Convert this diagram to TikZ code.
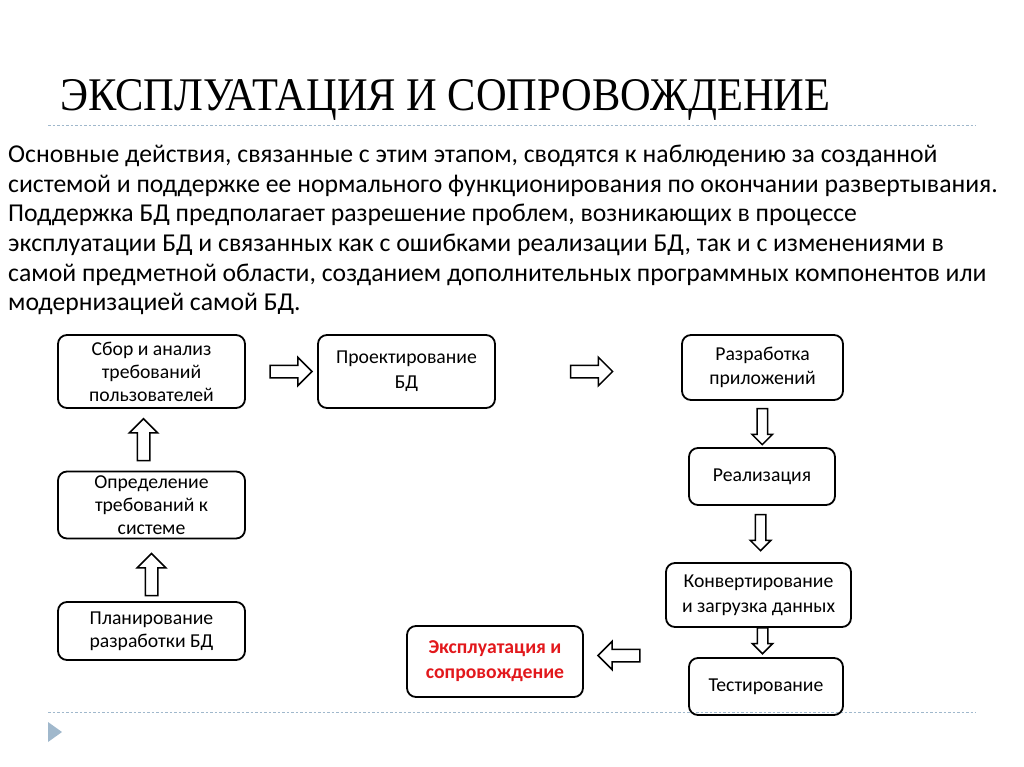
\documentclass[tikz,border=0pt]{standalone}
\usepackage{fontspec}
\setmainfont{Carlito}
\newfontfamily\titlefont{Liberation Serif}
\usetikzlibrary{shapes.arrows,calc}
\definecolor{rulegray}{RGB}{160,184,204}
\definecolor{explred}{RGB}{226,24,28}
\tikzset{
	stage/.style={draw, line width=1.8pt, rounded corners=9pt, align=center, inner sep=1pt,
		font=\fontsize{19.7}{23}\selectfont},
	bodyline/.style={anchor=base west, inner sep=0pt, font=\fontsize{25.7}{30}\selectfont},
	blockarrow/.style={single arrow, draw, line width=1.5pt, inner sep=0pt, text width=0pt,
		text height=11pt, text depth=0pt, single arrow head extend=8pt, minimum height=42pt},
	thinarrow/.style={blockarrow, text height=9pt, single arrow head extend=5pt, minimum height=36pt},
	dotrule/.style={rulegray, line width=1pt, dash pattern=on 2.5pt off 2pt}
}
\begin{document}
\begin{tikzpicture}[x=1pt,y=-1pt]
	\useasboundingbox (0,0) rectangle (1024,767);
	%title and rules
	\node[anchor=base west, inner sep=0pt] (title) at (60,111)
		{\resizebox{770pt}{31pt}{\titlefont ЭКСПЛУАТАЦИЯ И СОПРОВОЖДЕНИЕ}};
	\draw[dotrule] (48,125.5)--(976,125.5);		%top rule
	\draw[dotrule] (48,712)--(976,712);			%bottom rule
	\fill[rulegray] (48,722)--(62,732)--(48,742)--cycle;
	
	%text
	\node[bodyline] (l1) at (8,163)
		{Основные действия, связанные с этим этапом, сводятся к наблюдению за созданной};
	\node[bodyline] (l2) at (8,192.5)
		{системой и поддержке ее нормального функционирования по окончании развертывания.};
	\node[bodyline] (l3) at (8,222)
		{Поддержка БД предполагает разрешение проблем, возникающих в процессе};
	\node[bodyline] (l4) at (8,251.5)
		{эксплуатации БД и связанных как с ошибками реализации БД, так и с изменениями в};
	\node[bodyline] (l5) at (8,281)
		{самой предметной области, созданием дополнительных программных компонентов или};
	\node[bodyline] (l6) at (8,310.5)
		{модернизацией самой БД.};
	
	%left column
	\node[stage, minimum width=187pt, minimum height=73pt] (sbor) at (151.5,371.5)
		{Сбор и анализ\\требований\\пользователей};
	\node[stage, minimum width=187pt, minimum height=67pt, inner sep=0pt] (opred) at (151.5,505)
		{Определение\\требований к\\системе};
	\node[stage, minimum width=187pt, minimum height=58pt] (plan) at (151.5,631)
		{Планирование\\разработки БД};
	
	%middle
	\node[stage, minimum width=177pt, minimum height=73pt, font=\fontsize{19.7}{25}\selectfont] (proekt) at (406.5,371.5)
		{Проектирование\\БД};
	\node[stage, minimum width=176pt, minimum height=71pt, text=explred,
		font=\bfseries\fontsize{19.7}{25}\selectfont] (expl) at (495,661.5)
		{Эксплуатация и\\сопровождение};
	
	%right column
	\node[stage, minimum width=161pt, minimum height=65pt, font=\fontsize{19.7}{24}\selectfont] (razrab) at (762.5,367.5)
		{Разработка\\приложений};
	\node[stage, minimum width=146pt, minimum height=57pt] (realiz) at (762,476.5)
		{Реализация};
	\node[stage, minimum width=185pt, minimum height=64pt, font=\fontsize{19.7}{25}\selectfont] (konv) at (758.5,595)
		{Конвертирование\\и загрузка данных};
	\node[stage, minimum width=154pt, minimum height=57pt] (test) at (766,686.5)
		{Тестирование};
	
	%block arrows
	\node[blockarrow] (a1) at ($(sbor.east)!0.59!(proekt.west)$) {};
	\node[blockarrow] (a2) at ($(proekt.east)!0.5!(proekt.east -| razrab.west)$) {};
	\node[blockarrow, rotate=90] (a3) at ($(opred.north)!0.45!(sbor.south)+(-8,0)$) {};
	\node[blockarrow, rotate=90] (a4) at ($(plan.north)!0.38!(opred.south)$) {};
	\node[thinarrow, rotate=-90] (a5) at ($(razrab.south)!0.5!(realiz.north)$) {};
	\node[thinarrow, rotate=-90] (a6) at ($(realiz.south)!0.43!(konv.north)$) {};
	\node[thinarrow, rotate=-90, minimum height=26pt] (a7) at ($(konv.south)!0.35!(konv.south |- test.north)+(4,0)$) {};
	\node[blockarrow, rotate=180] (a8) at ($(expl.east)!0.47!(konv.west |- expl.east)+(0,-6)$) {};
\end{tikzpicture}
\end{document}
